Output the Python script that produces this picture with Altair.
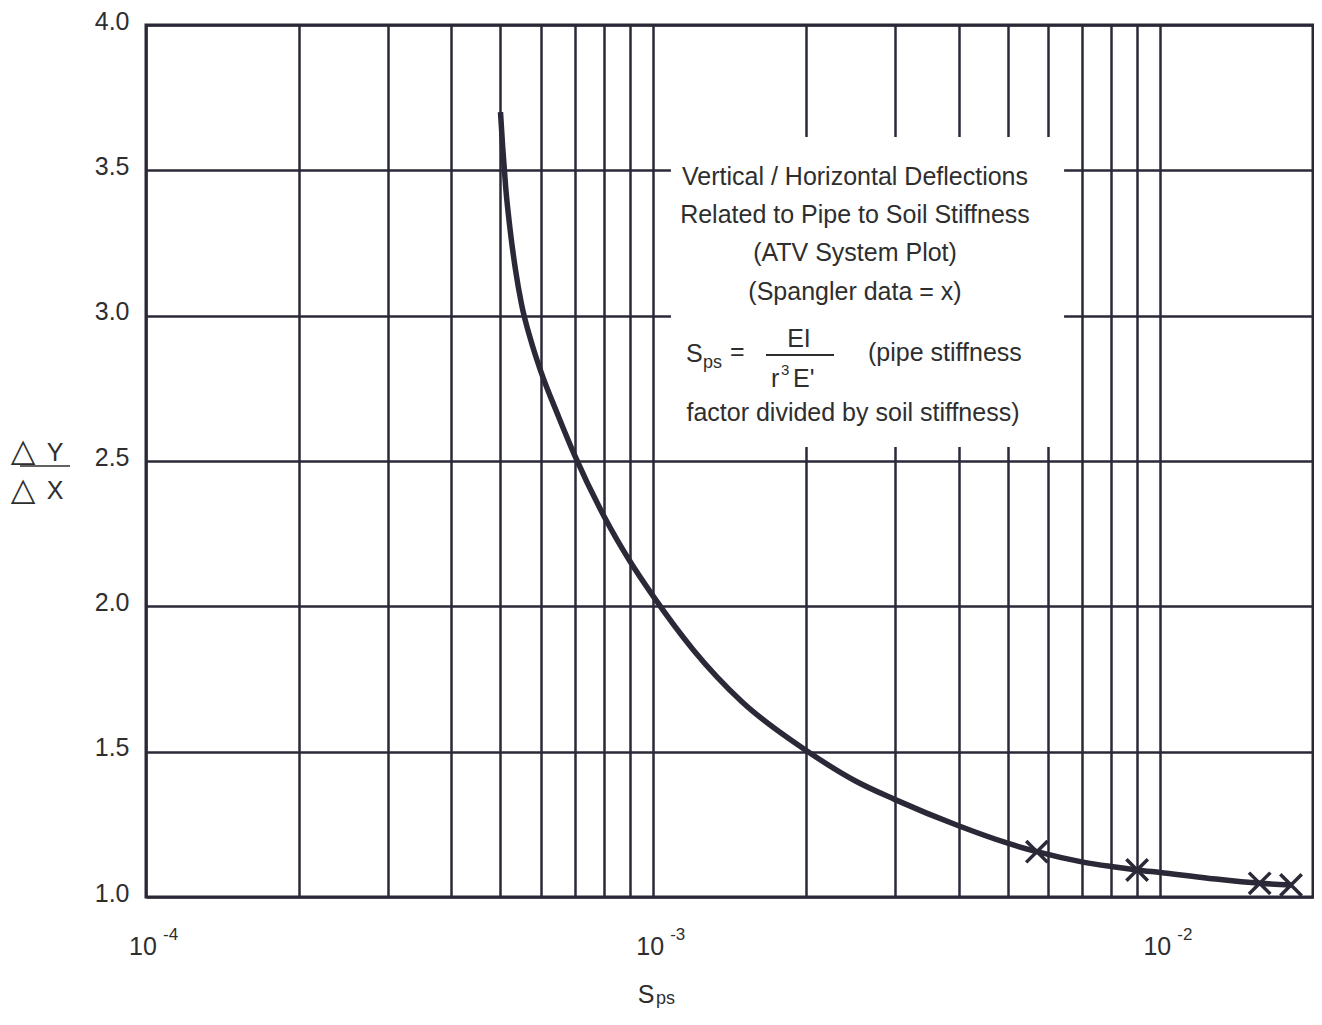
import altair as alt
import pandas as pd

# ---------------- data ----------------
curve_x = [5.00e-4, 5.05e-4, 5.12e-4, 5.22e-4, 5.35e-4, 5.50e-4, 5.75e-4, 6.00e-4,
           6.50e-4, 7.00e-4, 8.00e-4, 9.00e-4, 1.00e-3, 1.20e-3, 1.50e-3, 2.00e-3,
           2.50e-3, 3.00e-3, 4.00e-3, 5.00e-3, 5.71e-3, 7.00e-3, 8.00e-3, 9.00e-3,
           1.00e-2, 1.25e-2, 1.57e-2, 1.81e-2]
curve_y = [3.70, 3.58, 3.44, 3.30, 3.16, 3.04, 2.91, 2.81,
           2.655, 2.52, 2.31, 2.155, 2.035, 1.85, 1.67, 1.505,
           1.40, 1.335, 1.245, 1.185, 1.156, 1.121, 1.105, 1.093,
           1.084, 1.064, 1.047, 1.041]

spangler_x = [5.71e-3, 9.0e-3, 1.57e-2, 1.81e-2]
spangler_y = [1.156, 1.093, 1.047, 1.041]

x_grid = [1e-4, 2e-4, 3e-4, 4e-4, 5e-4, 6e-4, 7e-4, 8e-4, 9e-4,
          1e-3, 2e-3, 3e-3, 4e-3, 5e-3, 6e-3, 7e-3, 8e-3, 9e-3,
          1e-2, 2e-2]
y_ticks = [1.0, 1.5, 2.0, 2.5, 3.0, 3.5, 4.0]
decades = [1e-4, 1e-3, 1e-2]
decade_exp = ["-4", "-3", "-2"]

note_lines = ["Vertical / Horizontal Deflections",
              "Related to Pipe to Soil Stiffness",
              "(ATV System Plot)",
              "(Spangler data = x)"]
note_last = "factor divided by soil stiffness)"

# white panel behind the note (data coordinates)
box_x = [1.084e-3, 6.46e-3]
box_y = [2.548, 3.615]

# ---------------- style / layout ----------------
FONT = "Liberation Sans, Arial, sans-serif"
SYM = "DejaVu Sans"
INK = "#2b2937"
TEXT = "#2e2e2e"
FS = 25
L, T = 146, 25          # page position of plot area's top-left corner
W, H = 1167, 872

xs = alt.Scale(type="log", domain=[1e-4, 2e-2], nice=False)
ys = alt.Scale(domain=[1.0, 4.0], nice=False, zero=False)

curve_df = pd.DataFrame({"x": curve_x, "y": curve_y})
sp_df = pd.DataFrame({"x": spangler_x, "y": spangler_y})
box_df = pd.DataFrame({"x": [box_x[0]], "x2": [box_x[1]], "y": [box_y[0]], "y2": [box_y[1]]})
dec_df = pd.DataFrame({"v": decades, "e": decade_exp})
ONE = pd.DataFrame({"k": [0]})

box = alt.Chart(box_df).mark_rect(fill="white", stroke=None).encode(
    x=alt.X("x:Q", scale=xs,
            axis=alt.Axis(values=x_grid, grid=True, labels=False, ticks=False,
                          domain=False, title=None)),
    x2="x2:Q",
    y=alt.Y("y:Q", scale=ys,
            axis=alt.Axis(values=y_ticks, grid=True, ticks=False, domain=False,
                          format=".1f", title=None, labelFontSize=FS,
                          labelFont=FONT, labelColor=TEXT, labelPadding=17,
                          labelOffset=-4)),
    y2="y2:Q",
)

curve = alt.Chart(curve_df).mark_line(
    color=INK, strokeWidth=5.5, interpolate="monotone"
).encode(x=alt.X("x:Q", scale=xs), y=alt.Y("y:Q", scale=ys))

marks = alt.Chart(sp_df).mark_point(
    shape="M-1,-1L1,1M-1,1L1,-1", filled=False, size=460,
    stroke=INK, strokeWidth=3.5, opacity=1
).encode(x=alt.X("x:Q", scale=xs), y=alt.Y("y:Q", scale=ys))

dec_base = alt.Chart(dec_df).mark_text(
    text="10", font=FONT, fontSize=FS, align="center", baseline="alphabetic",
    color=TEXT, dx=-3
).encode(x=alt.X("v:Q", scale=xs), y=alt.value(955 - T))

dec_exp = alt.Chart(dec_df).mark_text(
    font=FONT, fontSize=17, align="left", baseline="alphabetic",
    color=TEXT, dx=17
).encode(x=alt.X("v:Q", scale=xs), y=alt.value(940 - T), text="e:N")


def label(text, x, y, size=FS, align="left", font=FONT):
    return alt.Chart(ONE).mark_text(
        text=text, font=font, fontSize=size, align=align,
        baseline="alphabetic", color=TEXT
    ).encode(x=alt.value(x - L), y=alt.value(y - T))


def bar(x1, x2, y, w=2):
    return alt.Chart(ONE).mark_rule(color=TEXT, strokeWidth=w).encode(
        x=alt.value(x1 - L), x2=alt.value(x2 - L), y=alt.value(y - T))


note_baselines = [185, 223, 261, 300]
texts = [label(t, 855, b, align="center") for t, b in zip(note_lines, note_baselines)]
texts += [
    label("S", 686, 362),
    label("ps", 703, 368, size=18),
    label("=", 730, 360),
    label("EI", 799, 347, align="center"),
    bar(766, 834, 355),
    label("r", 771, 387),
    label("3", 781, 375, size=15),
    label("E'", 793, 387),
    label("(pipe stiffness", 868, 361),
    label(note_last, 853, 421, align="center"),
    # y-axis title
    label("\u25b3", 23, 461, size=32, align="center", font=SYM),
    label("Y", 55, 461, align="center"),
    bar(20, 70, 466, w=1.5),
    label("\u25b3", 23, 500, size=32, align="center", font=SYM),
    label("X", 55, 499, align="center"),
    # x-axis title
    label("S", 646, 1003, align="center"),
    label("ps", 656, 1004, size=18),
]

chart = alt.layer(box, curve, marks, dec_base, dec_exp, *texts).properties(
    width=W, height=H,
    autosize=alt.AutoSizeParams(type="none"),
    padding={"left": L - 8, "top": T - 8, "right": 1, "bottom": 111},
    background="white",
).configure_view(
    stroke=INK, strokeWidth=3
).configure_axis(
    gridColor=INK, gridWidth=2.5, gridOpacity=1
)

chart.save("out.html", embed_options={"renderer": "svg", "actions": False})
